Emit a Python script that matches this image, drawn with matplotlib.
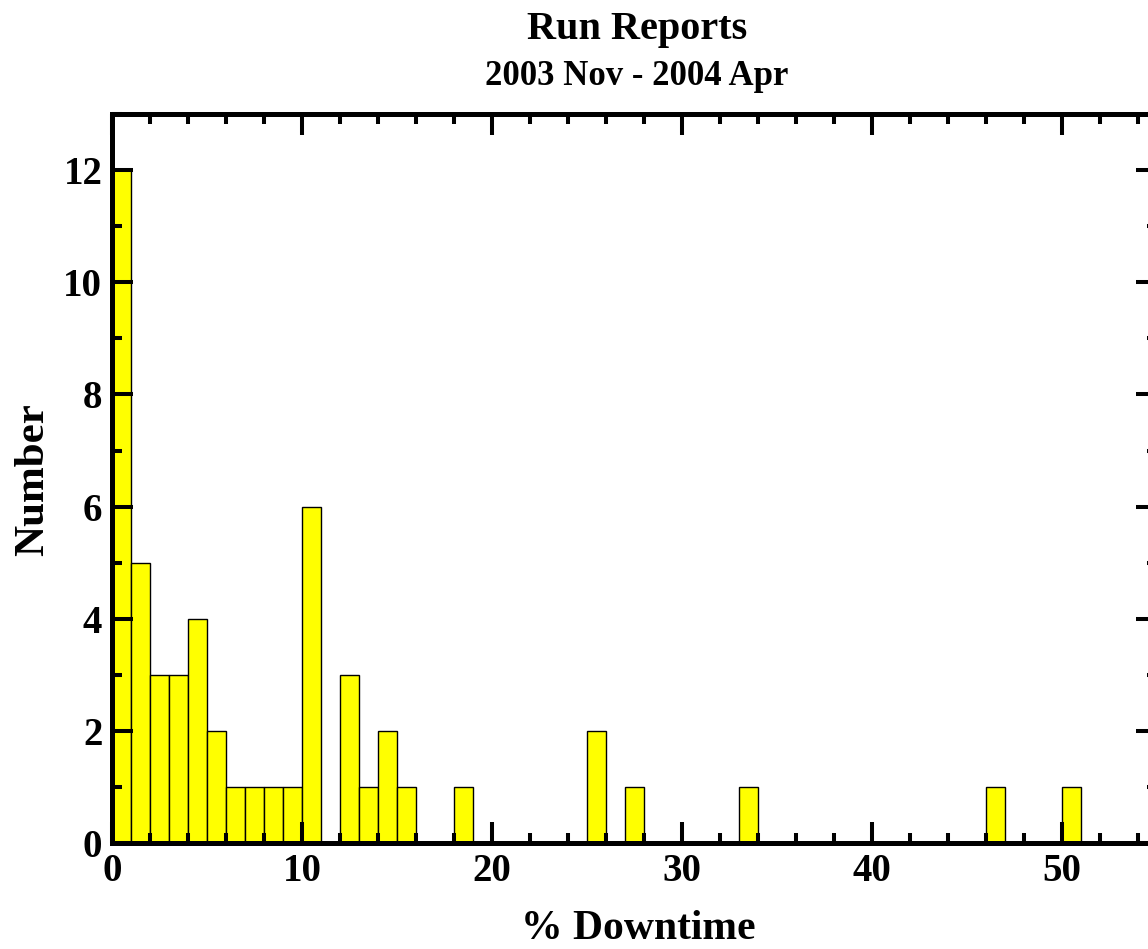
import matplotlib
matplotlib.use("Agg")
import matplotlib.pyplot as plt
from matplotlib.ticker import MultipleLocator

# Histogram of % downtime, one-percent bins (left edge -> count)
bin_left=[0,1,2,3,4,5,6,7,8,9,10,12,13,14,15,18,25,27,33,46,50]
counts=  [12,5,3,3,4,2,1,1,1,1,6,3,1,2,1,1,2,1,1,1,1]
BIN_W=1

TITLE="Run Reports"
SUBTITLE="2003 Nov - 2004 Apr"
XLABEL="% Downtime"
YLABEL="Number"

plt.rcParams['font.family']=['Liberation Serif','DejaVu Serif']
plt.rcParams['font.weight']='bold'

fig=plt.figure(figsize=(11.48,9.49),dpi=100)
# right spine sits just past the image edge, as in the original
ax=fig.add_axes([0.0976,0.1117,0.910,0.768])

ax.bar(bin_left,counts,width=BIN_W,align='edge',color='#ffff00',
       edgecolor='black',linewidth=1.0,zorder=2)
ax.set_axisbelow(False)

ax.set_xlim(0,55)
ax.set_ylim(0,13)
ax.xaxis.set_major_locator(MultipleLocator(10))
ax.xaxis.set_minor_locator(MultipleLocator(2))
ax.yaxis.set_major_locator(MultipleLocator(2))
ax.yaxis.set_minor_locator(MultipleLocator(1))
ax.tick_params(which='both',direction='in',top=True,right=True,width=2.9,colors='black')
ax.tick_params(which='major',length=15,labelsize=28,pad=7)
ax.tick_params(which='minor',length=7)
for s in ax.spines.values():
    s.set_linewidth(3.6)
    s.set_zorder(3)
for lbl in ax.get_xticklabels()+ax.get_yticklabels():
    lbl.set_fontweight('bold')

# axis labels placed by baseline
fig.text(638/1148,1-939/949,XLABEL,ha='center',va='baseline',fontsize=30,fontweight='bold')
fig.text(43/1148,1-480/949,YLABEL,rotation=90,rotation_mode='anchor',
         ha='center',va='baseline',fontsize=31,fontweight='bold')

fig.text(637/1148,1-39/949,TITLE,ha='center',va='baseline',fontsize=29,fontweight='bold')
fig.text(637/1148,1-85/949,SUBTITLE,ha='center',va='baseline',fontsize=25,fontweight='bold')

fig.savefig("out.png",dpi=100)
